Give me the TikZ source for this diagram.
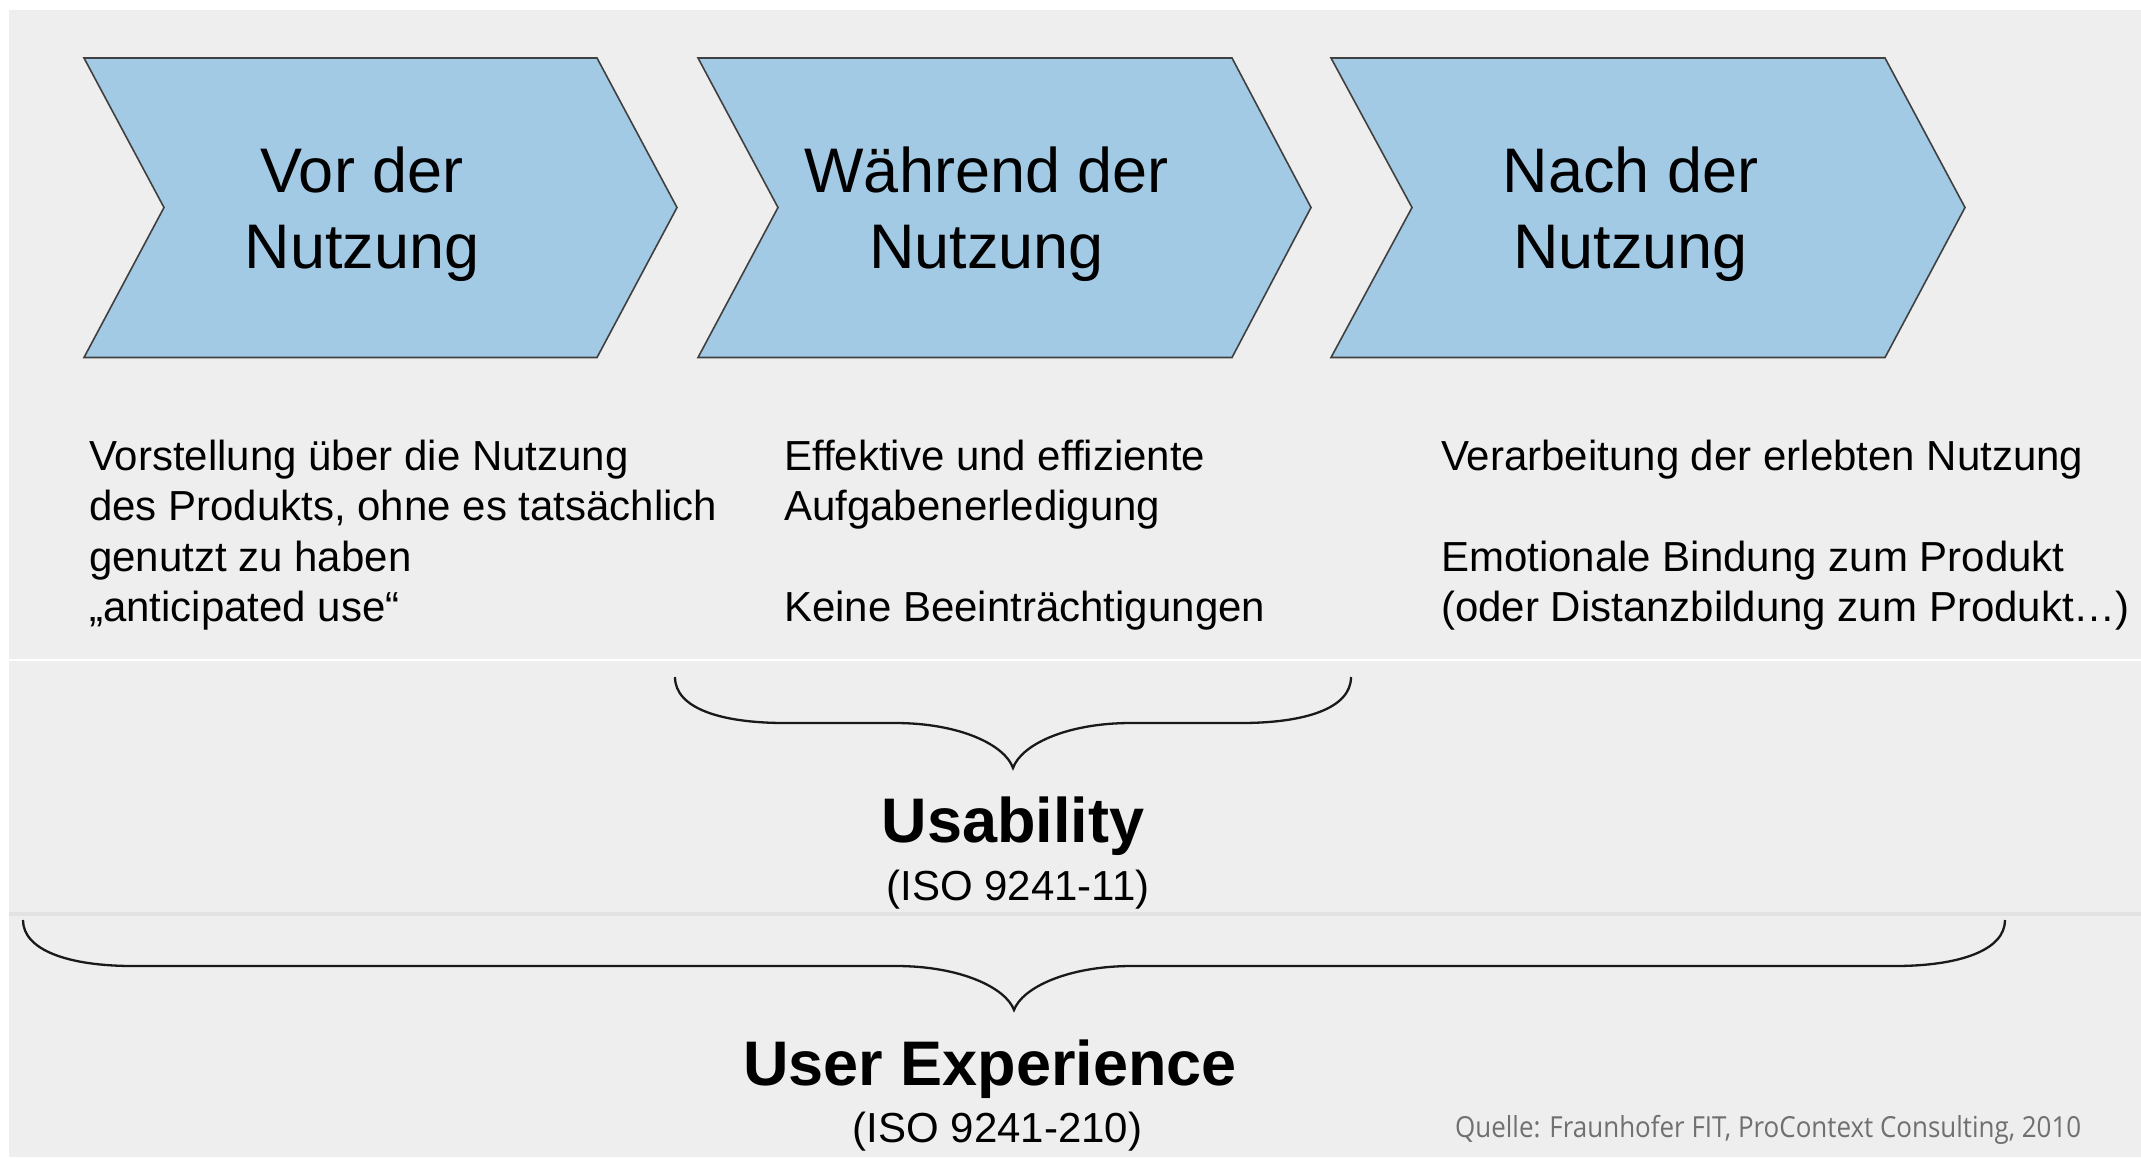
\documentclass[tikz,border=0pt]{standalone}
\usepackage{fontspec}
\usepackage{graphicx}
\setmainfont{Liberation Sans}
\newfontfamily\srcfont{Open Sans}
\definecolor{bgcol}{HTML}{EEEEEE}
\definecolor{bandcol}{HTML}{E2E2E2}
\definecolor{chevfill}{HTML}{A3CAE5}
\definecolor{chevline}{HTML}{404040}
\definecolor{srccol}{HTML}{707070}
\begin{document}
\begin{tikzpicture}[x=1pt,y=-1pt,
  chev/.style={fill=chevfill,draw=chevline,line width=1.6pt,line join=miter},
  bracepath/.style={draw=black!90,line width=2.3pt},
  headtext/.style={anchor=base,inner sep=0pt,font=\fontsize{63}{75.6}\selectfont},
  bodytext/.style={anchor=base west,inner sep=0pt,font=\fontsize{42}{50.5}\selectfont},
  bigtitle/.style={anchor=base,inner sep=0pt,font=\fontsize{63}{70}\selectfont\bfseries},
  isotext/.style={anchor=base,inner sep=0pt,font=\fontsize{42}{48}\selectfont}]
\useasboundingbox (0,0) rectangle (2141,1157);
\fill[bgcol] (9,10) rectangle (2141,1157);
\fill[white] (9,659) rectangle (2141,661);
\fill[bandcol] (9,912) rectangle (2141,916);

% chevrons
\path[chev] (84,58) -- (597,58) -- (677,207.5) -- (597,357.5) -- (84,357.5) -- (164,207.5) -- cycle;
\path[chev] (698,58) -- (1232,58) -- (1311,207.5) -- (1232,357.5) -- (698,357.5) -- (778,207.5) -- cycle;
\path[chev] (1331,58) -- (1885,58) -- (1965,207.5) -- (1885,357.5) -- (1331,357.5) -- (1412,207.5) -- cycle;

\node[headtext] (h1) at (362,192.7) {\begin{tabular}[t]{@{}c@{}}Vor der\\Nutzung\end{tabular}};
\node[headtext] (h2) at (986.6,192.7) {\begin{tabular}[t]{@{}c@{}}Während der\\Nutzung\end{tabular}};
\node[headtext] (h3) at (1630.4,192.7) {\begin{tabular}[t]{@{}c@{}}Nach der\\Nutzung\end{tabular}};

% descriptions
\node[bodytext] (d1) at (89,470) {\begin{tabular}[t]{@{}l@{}}Vorstellung über die Nutzung\\des Produkts, ohne es tatsächlich\\genutzt zu haben\\„anticipated use“\end{tabular}};
\node[bodytext] (d2) at (784,470) {\begin{tabular}[t]{@{}l@{}}Effektive und effiziente\\Aufgabenerledigung\\[0pt]\\Keine Beeinträchtigungen\end{tabular}};
\node[bodytext] (d3) at (1441,470) {\begin{tabular}[t]{@{}l@{}}Verarbeitung der erlebten Nutzung\\[0pt]\\Emotionale Bindung zum Produkt\\(oder Distanzbildung zum Produkt…)\end{tabular}};

% usability brace
\coordinate (ua) at (675,677);
\coordinate (ut) at (1013,768);
\coordinate (ub) at (1351,677);
\draw[bracepath] (ua) .. controls (675,708) and (720,723) .. (785,723) -- (895,723)
  .. controls (960,723) and (1005,745) .. (ut)
  .. controls (1021,745) and (1066,723) .. (1131,723) -- (1241,723)
  .. controls (1306,723) and (1351,708) .. (ub);
\node[bigtitle] (us) at (1013,842.7) {Usability};
\node[isotext] (usiso) at (1018,900) {(ISO 9241-11)};

% user experience brace
\coordinate (xa) at (23,920);
\coordinate (xt) at (1014,1010);
\coordinate (xb) at (2005,920);
\draw[bracepath] (xa) .. controls (23,950) and (68,966) .. (133,966) -- (896,966)
  .. controls (961,966) and (1006,988) .. (xt)
  .. controls (1022,988) and (1067,966) .. (1132,966) -- (1895,966)
  .. controls (1960,966) and (2005,950) .. (xb);
\node[bigtitle] (ux) at (990,1085) {User Experience};
\node[isotext] (uxiso) at (997.5,1142) {(ISO 9241-210)};

% source
\node[anchor=base west,inner sep=0pt,text=srccol] (src) at (1455,1137)
  {\resizebox{626pt}{\height}{\srcfont\fontsize{29}{34}\selectfont Quelle: Fraunhofer FIT, ProContext Consulting, 2010}};
\end{tikzpicture}
\end{document}
